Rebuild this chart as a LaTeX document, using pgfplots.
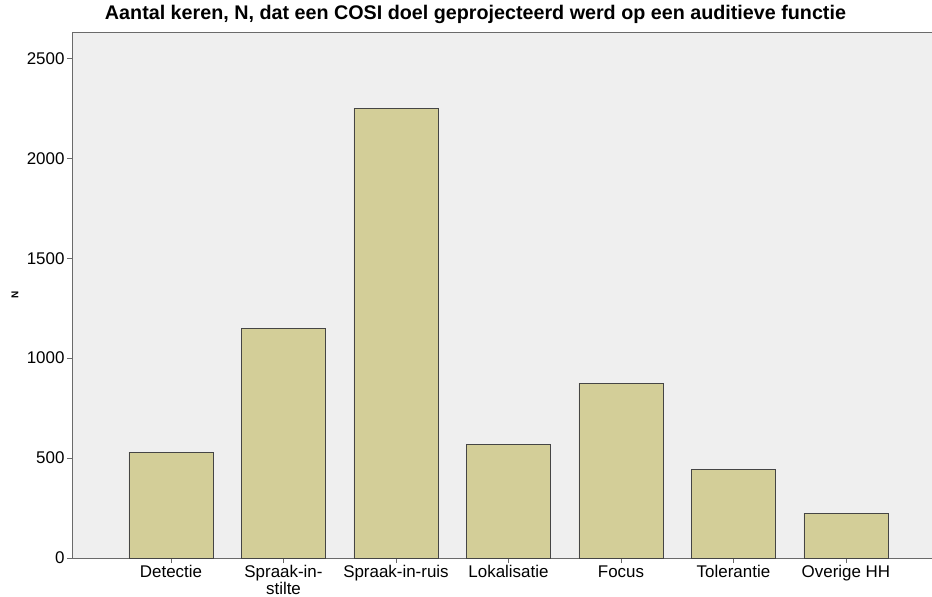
\documentclass[border=0pt]{standalone}
\usepackage{fontspec}
\setmainfont{Liberation Sans}
\usepackage{pgfplots}
\pgfplotsset{compat=1.18}
\definecolor{barfill}{HTML}{D3CE98}
\definecolor{bg}{HTML}{EFEFEF}
\definecolor{axisgray}{HTML}{6A6A6A}
\definecolor{baredge}{HTML}{454545}
\begin{document}
\begin{tikzpicture}
\path[use as bounding box] (-72bp,-39bp) rectangle (860bp,558bp);
\begin{axis}[
  scale only axis, width=860bp, height=526bp,
  xmin=-0.88, xmax=6.765, ymin=0, ymax=2632,
  axis background/.style={fill=bg},
  axis line style={axisgray, line width=0.8bp},
  xtick={0,1,2,3,4,5,6},
  xticklabels={Detectie, {Spraak-in-\\stilte}, Spraak-in-ruis, Lokalisatie, Focus, Tolerantie, Overige HH},
  ytick={0,500,1000,1500,2000,2500},
  xtick pos=bottom, ytick pos=left,
  tick align=outside, major tick length=5bp,
  tick style={axisgray, line width=0.8bp},
  /pgf/number format/assume math mode=true,
  /pgf/number format/1000 sep={},
  ticklabel style={font=\fontsize{17}{14}\selectfont},
  xticklabel style={align=center, yshift=1bp},
  yticklabel style={xshift=1bp},
  clip=false,
]
\addplot[ybar, bar width=84bp, fill=barfill, draw=baredge, line width=0.8bp]
  coordinates {(0,530) (1,1150) (2,2250) (3,570) (4,875) (5,445) (6,225)};
\end{axis}
\node[anchor=base, font=\bfseries\fontsize{19.8}{20}\selectfont] at (403.5bp,538bp)
  {Aantal keren, N, dat een COSI doel geprojecteerd werd op een auditieve functie};
\node[rotate=90, font=\bfseries\fontsize{10}{10}\selectfont] at (-57bp,263bp) {N};
\end{tikzpicture}
\end{document}
